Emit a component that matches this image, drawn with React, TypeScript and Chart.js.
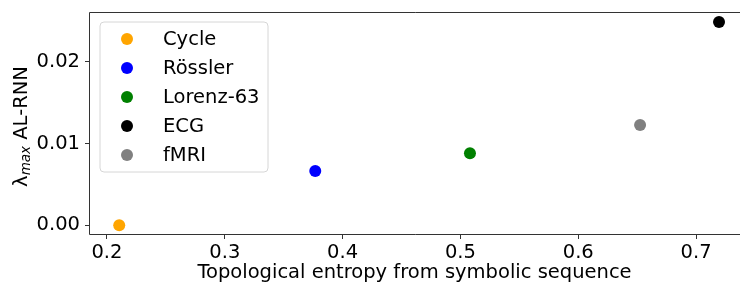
import React, { useEffect, useRef } from "react";
import { Chart, registerables } from "chart.js";

Chart.register(...registerables);

const seriesNames = ["Cycle", "Rössler", "Lorenz-63", "ECG", "fMRI"];
const seriesColors = ["#ffa500", "#0000ff", "#008000", "#000000", "#808080"];
const entropyValues = [0.2104, 0.3768, 0.5081, 0.7195, 0.6525];
const lambdaValues = [0.0, 0.00665, 0.00882, 0.0249, 0.01228];
const xTickValues = [0.2, 0.3, 0.4, 0.5, 0.6, 0.7];
const yTickValues = [0.0, 0.01, 0.02];
const xTitle = "Topological entropy from symbolic sequence";

const FONT = "'DejaVu Sans', sans-serif";
const FS = 19.5;

const framePlugin = {
  id: "frameAndTitles",
  afterDraw(chart: any) {
    const { ctx, chartArea } = chart;
    const { left, top, right, bottom } = chartArea;
    ctx.save();
    ctx.strokeStyle = "#333";
    ctx.lineWidth = 1;
    ctx.beginPath();
    ctx.moveTo(right + 2, top + 0.5);
    ctx.lineTo(left + 0.5, top + 0.5);
    ctx.lineTo(left + 0.5, bottom - 0.5);
    ctx.lineTo(right + 2, bottom - 0.5);
    ctx.stroke();

    ctx.fillStyle = "#000";
    ctx.font = `${FS}px ${FONT}`;
    ctx.textAlign = "center";
    ctx.textBaseline = "middle";
    ctx.fillText(xTitle, (left + right) / 2, 273);

    ctx.translate(20, (top + bottom) / 2 + 3);
    ctx.rotate(-Math.PI / 2);
    const mainFont = `${FS}px ${FONT}`;
    const subFont = `italic 13.5px ${FONT}`;
    ctx.font = mainFont;
    const wL = ctx.measureText("λ").width;
    const wRest = ctx.measureText(" AL-RNN").width;
    ctx.font = subFont;
    const wSub = ctx.measureText("max").width;
    const total = wL + wSub + wRest;
    let x = -total / 2;
    ctx.textAlign = "left";
    ctx.textBaseline = "alphabetic";
    ctx.font = mainFont;
    ctx.fillText("λ", x, 7);
    x += wL;
    ctx.font = subFont;
    ctx.fillText("max", x, 10);
    x += wSub;
    ctx.font = mainFont;
    ctx.fillText(" AL-RNN", x, 7);
    ctx.restore();

    ctx.save();
    const bx = 100, by = 22, bw = 168, bh = 150, r = 4;
    ctx.beginPath();
    ctx.moveTo(bx + r, by);
    ctx.arcTo(bx + bw, by, bx + bw, by + bh, r);
    ctx.arcTo(bx + bw, by + bh, bx, by + bh, r);
    ctx.arcTo(bx, by + bh, bx, by, r);
    ctx.arcTo(bx, by, bx + bw, by, r);
    ctx.closePath();
    ctx.fillStyle = "rgba(255,255,255,0.8)";
    ctx.fill();
    ctx.strokeStyle = "#d6d6d6";
    ctx.lineWidth = 1;
    ctx.stroke();
    ctx.font = `${FS}px ${FONT}`;
    ctx.textAlign = "left";
    ctx.textBaseline = "middle";
    chart.data.datasets.forEach((ds: any, i: number) => {
      const cy = 39 + i * 29;
      ctx.beginPath();
      ctx.arc(127, cy, 6, 0, Math.PI * 2);
      ctx.fillStyle = ds.backgroundColor;
      ctx.fill();
      ctx.fillStyle = "#000";
      ctx.fillText(ds.label, 163, cy + 1);
    });
    ctx.restore();
  },
};

const zeroPad = (s: any) => {
  s.paddingLeft = 0;
  s.paddingRight = 0;
  s.paddingTop = 0;
  s.paddingBottom = 0;
};

export default function App() {
  const ref = useRef<HTMLCanvasElement>(null);
  useEffect(() => {
    document.body.style.margin = "0";
    const canvas = ref.current!;
    const chart = new Chart(canvas, {
      type: "scatter",
      data: {
        datasets: seriesNames.map((name, i) => ({
          label: name,
          data: [{ x: entropyValues[i], y: lambdaValues[i] }],
          backgroundColor: seriesColors[i],
          borderColor: seriesColors[i],
          pointRadius: 6,
          pointHoverRadius: 6,
          borderWidth: 0,
        })),
      },
      options: {
        animation: false,
        responsive: false,
        devicePixelRatio: 1,
        layout: { autoPadding: false, padding: { left: 0, top: 12, right: 0, bottom: 0 } },
        plugins: { legend: { display: false }, tooltip: { enabled: false } },
        scales: {
          x: {
            type: "linear",
            min: 0.18475,
            max: 0.7373,
            afterFit: (s: any) => {
              s.height = 51;
              zeroPad(s);
            },
            afterBuildTicks: (s: any) => {
              s.ticks = xTickValues.map((v) => ({ value: v }));
            },
            grid: {
              display: true,
              drawOnChartArea: false,
              drawTicks: true,
              tickLength: 4,
              color: "#333",
            },
            border: { display: false },
            ticks: {
              padding: 2,
              color: "#000",
              font: { family: FONT, size: FS },
              maxRotation: 0,
              callback: (v: any) => Number(v).toFixed(1),
            },
          },
          y: {
            type: "linear",
            min: -0.00119,
            max: 0.02612,
            afterFit: (s: any) => {
              s.width = 89;
              zeroPad(s);
            },
            afterBuildTicks: (s: any) => {
              s.ticks = yTickValues.map((v) => ({ value: v }));
            },
            grid: {
              display: true,
              drawOnChartArea: false,
              drawTicks: true,
              tickLength: 4,
              color: "#333",
            },
            border: { display: false },
            ticks: {
              padding: 5,
              color: "#000",
              font: { family: FONT, size: FS },
              callback: (v: any) => Number(v).toFixed(2),
            },
          },
        },
      },
      plugins: [framePlugin],
    });
    return () => chart.destroy();
  }, []);
  return <canvas ref={ref} width={740} height={286} style={{ display: "block" }} />;
}
